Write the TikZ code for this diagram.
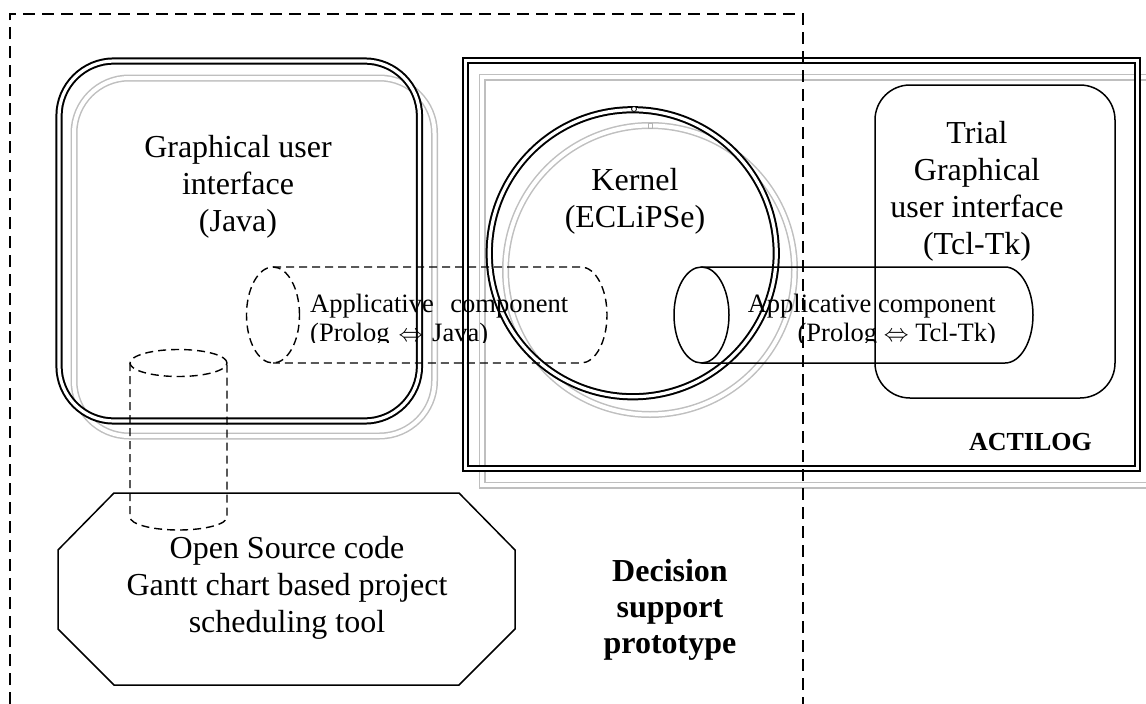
\documentclass[tikz,border=0pt]{standalone}
\usepackage{fontspec}
\setmainfont{Liberation Serif}
\usetikzlibrary{calc}

\begin{document}
\begin{tikzpicture}[x=1pt,y=-1pt,
    dblline/.style={draw=black, line width=2pt, double=white, double distance=3.2pt},
    shadowline/.style={draw=gray!50, line width=1.5pt, double=white, double distance=4pt},
    dashedline/.style={dash pattern=on 8pt off 5pt, line width=1.4pt},
    thinline/.style={line width=1.5pt},
    bigtext/.style={font=\fontsize{32}{37}\selectfont, align=center, inner sep=0pt, anchor=base},
    apptext/.style={font=\fontsize{26.5}{29}\selectfont, inner sep=0pt, anchor=base west}]

    \useasboundingbox (0,0) rectangle (1146,704);

    % Shadows
    \draw[shadowline, rounded corners=55pt] (74,78) rectangle (434.5,436);
    \draw[shadowline] (482,77) rectangle (1165,485);
    \draw[shadowline] (650,270) circle (144.5pt);

    % Graphical user interface (Java)
    \draw[dblline, rounded corners=55pt] (59,61) rectangle (419.5,421);
    \node[bigtext] (gui) at (238,231) {Graphical user\\interface\\(Java)};

    % ACTILOG frame
    \draw[dblline] (465.5,60.5) rectangle (1137.5,468.5);
    \node[font=\fontsize{26}{30}\selectfont\bfseries, inner sep=0pt, anchor=base east] (actilog) at (1092,450) {ACTILOG};

    % Kernel
    \draw[dblline] (632.75,253.25) circle (143.5pt);
    \draw[line width=0.8pt, fill=white] (634,109) circle (2.5pt);
    \draw[gray!60, line width=0.6pt] (648,123) rectangle (652,128);
    \node[bigtext] (kernel) at (635,227) {Kernel\\(ECLiPSe)};

    % Trial GUI
    \draw[thinline, rounded corners=35pt] (875,85) rectangle (1115,398);
    \node[bigtext] (trial) at (977,254) {Trial\\Graphical\\user interface\\(Tcl-Tk)};

    % Applicative component (Java), dashed
    \draw[dashedline] (273,315) ellipse (26.5pt and 48pt);
    \draw[dashedline] (273,267) -- (581,267) arc (90:-90:26pt and 48pt) -- (273,363);
    \begin{scope}
        \clip (300,280) rectangle (620,342.5);
        \node[apptext, text width=258pt, align=left] (appjava) at (310,312)
            {Applicative\hfill component\\(Prolog $\Leftrightarrow$ Java)};
    \end{scope}

    % Applicative component (Tcl-Tk)
    \draw[thinline] (701.5,315) ellipse (27.5pt and 48pt);
    \draw[thinline] (701.5,267) -- (1005,267) arc (90:-90:28pt and 48pt) -- (701.5,363);
    \begin{scope}
        \clip (730,280) rectangle (1010,342.5);
        \node[apptext, anchor=base east, align=right] (apptcl) at (996,341)
            {Applicative component\\(Prolog $\Leftrightarrow$ Tcl-Tk)};
    \end{scope}

    % Open source tool
    \draw[thinline] (114,493) -- (459,493) -- (515,550) -- (515,629) -- (459,685)
        -- (114,685) -- (58,629) -- (58,550) -- cycle;
    \node[bigtext] (opensrc) at (287,632) {Open Source code\\Gantt chart based project\\scheduling tool};

    % link to the tool
    \draw[dashedline] (178.5,363) ellipse (48.5pt and 13.5pt);
    \draw[dashedline] (130,363) -- (130,517) arc (180:360:48.5pt and 13pt) -- (227,363);

    % Decision support prototype
    \draw[dash pattern=on 12pt off 7pt, line width=2.2pt] (10,704) -- (10,14) -- (803,14) -- (803,704);
    \node[bigtext, font=\fontsize{32}{36}\selectfont\bfseries] (decision) at (670,653) {Decision\\support\\prototype};

\end{tikzpicture}
\end{document}
